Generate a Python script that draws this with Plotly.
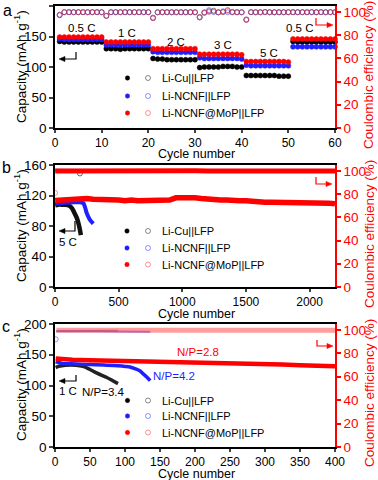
import plotly.graph_objects as go

# ---------------- Panel a : rate capability ----------------
cycle_a = list(range(1, 61))
rate_labels = ["0.5 C", "1 C", "2 C", "3 C", "5 C", "0.5 C"]
cap_a_cu = [142, 141, 141, 141, 141, 141, 141, 141, 141, 141,
            130, 130, 130, 129, 130, 130, 130, 130, 130, 130,
            114, 113, 113, 112, 112, 112, 112, 112, 112, 112,
            99, 100, 100, 100, 100, 101, 101, 101, 100, 100,
            86, 86, 86, 86, 86, 86, 86, 85, 85, 85,
            142, 141, 141, 141, 141, 141, 141, 141, 141, 141]
cap_a_ncnf = [146, 145, 145, 145, 145, 145, 145, 145, 145, 145,
              136, 136, 136, 136, 136, 136, 136, 136, 136, 136,
              125, 124, 124, 124, 124, 124, 124, 124, 124, 124,
              115, 114, 114, 114, 114, 114, 114, 114, 114, 113,
              103, 102, 102, 102, 102, 102, 102, 102, 102, 102,
              133, 133, 133, 133, 133, 133, 133, 133, 133, 133]
cap_a_mop = [149, 149, 149, 149, 149, 149, 149, 149, 149, 149,
             141, 141, 141, 141, 141, 141, 141, 141, 141, 141,
             130, 130, 130, 130, 130, 130, 130, 130, 130, 130,
             121, 121, 121, 121, 121, 121, 121, 121, 121, 120,
             109, 109, 109, 109, 109, 109, 109, 109, 109, 108,
             146, 146, 146, 146, 146, 146, 146, 146, 146, 146]
ce_a_cu = [97.0, 99.6, 99.7, 99.6, 99.7, 99.6, 99.7, 99.6, 99.7, 99.6,
           96.5, 99.6, 99.7, 99.6, 99.7, 99.6, 99.7, 99.6, 99.7, 99.6,
           95.0, 99.5, 99.6, 99.7, 99.6, 99.5, 99.6, 99.7, 99.6, 99.5,
           95.5, 99.0, 100.5, 101.0, 99.5, 99.8, 101.5, 100.0, 99.5, 99.5,
           93.5, 99.6, 99.7, 99.5, 99.8, 99.6, 99.5, 99.6, 99.6, 99.6,
           99.6, 99.6, 99.7, 99.6, 99.7, 99.6, 99.7, 99.6, 99.7, 99.6]
ce_a_ncnf = [97.5, 99.7, 99.6, 99.7, 99.6, 99.7, 99.6, 99.7, 99.6, 99.7,
             96.5, 99.7, 99.6, 99.7, 99.6, 99.7, 99.6, 99.7, 99.6, 99.7,
             94.5, 99.6, 99.7, 99.5, 99.6, 99.7, 99.6, 99.5, 99.7, 99.6,
             95.0, 99.5, 101.5, 99.8, 99.5, 100.5, 99.6, 99.5, 99.8, 99.6,
             93.0, 99.7, 99.5, 99.6, 99.8, 99.7, 99.6, 99.5, 99.6, 99.7,
             99.7, 99.6, 99.7, 99.6, 99.7, 99.6, 99.7, 99.6, 99.7, 99.6]
ce_a_mop = [97.4, 99.8, 99.8, 99.7, 99.8, 99.8, 99.7, 99.8, 99.8, 99.7,
            96.6, 99.8, 99.8, 99.7, 99.8, 99.8, 99.7, 99.8, 99.8, 99.7,
            94.5, 99.7, 99.8, 99.8, 99.7, 99.8, 99.8, 99.7, 99.8, 99.8,
            95.4, 99.6, 99.8, 100.5, 99.7, 99.8, 100.8, 99.7, 99.6, 99.8,
            93.0, 99.8, 99.7, 99.8, 99.8, 99.7, 99.8, 99.8, 99.7, 99.8,
            99.8, 99.8, 99.7, 99.8, 99.8, 99.7, 99.8, 99.8, 99.7, 99.8]

# ---------------- Panel b : long cycling at 5 C ----------------
cyc_b_cu = [1, 25, 50, 75, 100, 118, 135, 150, 162, 175, 185, 192, 198, 203]
cap_b_cu = [107, 108, 108, 108, 107.5, 106, 103, 98, 94, 89, 83, 78, 73, 68]
cyc_b_ncnf = [1, 50, 100, 150, 200, 222, 235, 249, 262, 275, 290, 301]
cap_b_ncnf = [109, 110, 110.5, 111, 111, 110, 105, 97, 92, 88, 85, 83]
cyc_b_mop = [1, 50, 100, 150, 200, 250, 300, 350, 400, 450, 500, 550, 600,
             650, 700, 750, 800, 850, 900, 950, 1000, 1050, 1100, 1150,
             1200, 1250, 1300, 1350, 1400, 1450, 1500, 1550, 1600, 1650,
             1700, 1750, 1800, 1850, 1900, 1950, 2000, 2050, 2100, 2150, 2200]
cap_b_mop = [113.5, 114, 115, 114, 115, 116, 115, 115, 114, 114, 114, 113, 114,
             113, 113, 113, 113, 114, 114, 117, 117, 118, 117, 116,
             115, 115, 114, 114, 113, 113, 113, 112, 112, 111,
             111, 111, 110, 110, 110, 110, 110, 110, 110, 110, 109]
cyc_b_ce_cu = [2, 50, 100, 150, 190, 196]
ce_b_cu = [100.0, 100.0, 100.0, 100.0, 100.0, 97.7]
cyc_b_ce_ncnf = [2, 50, 100, 150, 200, 250, 301]
ce_b_ncnf = [100.8, 100.6, 100.5, 100.5, 100.3, 100.2, 100.2]
cyc_b_ce_mop = [2, 100, 200, 300, 400, 500, 600, 700, 800, 900, 1000, 1100,
                1200, 1300, 1400, 1500, 1600, 1700, 1800, 1900, 2000, 2100, 2200]
ce_b_mop = [99.9, 100.0, 99.9, 100.0, 99.9, 100.0, 99.9, 100.0, 99.9, 100.0, 99.9, 100.0,
            99.9, 100.0, 99.9, 100.0, 99.9, 100.0, 99.9, 100.0, 99.9, 100.0, 99.9]
first_ce_b = [81]

# ---------------- Panel c : 1 C cycling with N/P ratios ----------------
cyc_c_cu = [1, 5, 15, 30, 40, 50, 60, 74, 82, 90]
cap_c_cu = [129, 131, 133, 133, 131, 126, 120, 113, 108, 103]
cyc_c_ncnf = [1, 10, 30, 50, 70, 90, 100, 107, 115, 121, 126, 131, 136]
cap_c_ncnf = [139, 136, 135, 134, 133.5, 132, 131, 130, 127, 124, 119, 114, 108]
cyc_c_mop = [1, 10, 25, 50, 75, 100, 125, 150, 175, 200, 225, 250, 275, 300,
             325, 350, 375, 400]
cap_c_mop = [144, 143, 142, 141, 140.5, 140, 139, 138.5, 138, 137, 136.5, 136,
             135, 134.5, 134, 133, 132.5, 131.5]
cyc_c_ce_cu = [2, 30, 60, 90]
ce_c_cu = [99.0, 99.2, 99.3, 99.2]
cyc_c_ce_ncnf = [2, 30, 60, 90, 110, 136]
ce_c_ncnf = [98.8, 99.0, 98.8, 98.6, 98.5, 98.3]
cyc_c_ce_mop = [2, 50, 100, 150, 200, 250, 300, 350, 400]
ce_c_mop = [99.6, 99.7, 99.7, 99.6, 99.7, 99.6, 99.7, 99.6, 99.6]
first_ce_c = [92]
np_labels = ["N/P=3.4", "N/P=4.2", "N/P=2.8"]

series_names = ["Li-Cu||LFP", "Li-NCNF||LFP", "Li-NCNF@MoP||LFP"]

BLACK, BLUE, RED = "#000000", "#1f1fff", "#ff0000"
CE_BLACK, CE_BLUE, CE_RED = "rgba(0,0,0,0.45)", "rgba(40,40,255,0.5)", "rgba(255,40,40,0.5)"
FONT = "Liberation Sans, Arial, sans-serif"

fig = go.Figure()

# panel a
for y, c in [(cap_a_cu, BLACK), (cap_a_ncnf, BLUE), (cap_a_mop, RED)]:
    fig.add_trace(go.Scatter(x=cycle_a, y=y, mode="markers", xaxis="x", yaxis="y",
                             marker=dict(size=5, color=c, line=dict(width=0.5, color=c)),
                             showlegend=False, cliponaxis=False))
for y, c in [(ce_a_cu, CE_BLACK), (ce_a_ncnf, CE_BLUE), (ce_a_mop, CE_RED)]:
    fig.add_trace(go.Scatter(x=cycle_a, y=y, mode="markers", xaxis="x", yaxis="y2",
                             marker=dict(size=5, symbol="circle-open", color=c, line=dict(width=1, color=c)),
                             showlegend=False))

# panel b
fig.add_trace(go.Scatter(x=cyc_b_ce_cu, y=ce_b_cu, mode="lines", xaxis="x2", yaxis="y4",
                         line=dict(color=CE_BLACK, width=2), showlegend=False))
fig.add_trace(go.Scatter(x=cyc_b_ce_cu[-1:], y=ce_b_cu[-1:], mode="markers", xaxis="x2", yaxis="y4",
                         marker=dict(size=5, symbol="circle-open", color="rgba(0,0,0,0.6)"), showlegend=False))
fig.add_trace(go.Scatter(x=cyc_b_ce_ncnf, y=ce_b_ncnf, mode="lines", xaxis="x2", yaxis="y4",
                         line=dict(color="rgba(60,60,255,0.8)", width=2.5), showlegend=False))
fig.add_trace(go.Scatter(x=cyc_b_ce_mop, y=ce_b_mop, mode="lines", xaxis="x2", yaxis="y4",
                         line=dict(color=RED, width=5), showlegend=False))
fig.add_trace(go.Scatter(x=[1], y=first_ce_b, mode="markers", xaxis="x2", yaxis="y4",
                         marker=dict(size=5, symbol="circle-open", color=CE_RED), showlegend=False))
fig.add_trace(go.Scatter(x=cyc_b_cu, y=cap_b_cu, mode="lines", xaxis="x2", yaxis="y3",
                         line=dict(color="#111111", width=4.5, shape="spline"), showlegend=False))
fig.add_trace(go.Scatter(x=cyc_b_ncnf, y=cap_b_ncnf, mode="lines", xaxis="x2", yaxis="y3",
                         line=dict(color=BLUE, width=4, shape="spline"), showlegend=False))
fig.add_trace(go.Scatter(x=cyc_b_mop, y=cap_b_mop, mode="lines", xaxis="x2", yaxis="y3",
                         line=dict(color=RED, width=5.5), showlegend=False))

# panel c
fig.add_trace(go.Scatter(x=cyc_c_ce_cu, y=ce_c_cu, mode="lines", xaxis="x3", yaxis="y6",
                         line=dict(color=CE_BLACK, width=2), showlegend=False))
fig.add_trace(go.Scatter(x=cyc_c_ce_ncnf, y=ce_c_ncnf, mode="lines", xaxis="x3", yaxis="y6",
                         line=dict(color="rgba(60,60,255,0.7)", width=2), showlegend=False))
fig.add_trace(go.Scatter(x=cyc_c_ce_mop, y=ce_c_mop, mode="lines", xaxis="x3", yaxis="y6",
                         line=dict(color="rgba(255,90,90,0.6)", width=5), showlegend=False))
fig.add_trace(go.Scatter(x=[1], y=first_ce_c, mode="markers", xaxis="x3", yaxis="y6",
                         marker=dict(size=5, symbol="circle-open", color=CE_BLUE), showlegend=False))
fig.add_trace(go.Scatter(x=cyc_c_cu, y=cap_c_cu, mode="lines", xaxis="x3", yaxis="y5",
                         line=dict(color="#222222", width=3.5, shape="spline"), showlegend=False))
fig.add_trace(go.Scatter(x=cyc_c_ncnf, y=cap_c_ncnf, mode="lines", xaxis="x3", yaxis="y5",
                         line=dict(color=BLUE, width=3.5, shape="spline"), showlegend=False))
fig.add_trace(go.Scatter(x=cyc_c_mop, y=cap_c_mop, mode="lines", xaxis="x3", yaxis="y5",
                         line=dict(color=RED, width=4.5), showlegend=False))

# ---------------- layout helpers ----------------
L, R, T, B = 55, 43, 6, 33
W, H = 378, 480
PW, PH = W - L - R, H - T - B


def px(x):
    return (x - L) / PW


def py(y):
    return (H - B - y) / PH


doms = [(py(128), py(6)), (py(287), py(165)), (py(447), py(324))]
xranges = [[0, 60], [0, 2200], [0, 400]]
xdt = [10, 500, 50]
yranges = [[0, 200], [0, 160], [0, 200]]
ydt = [50, 40, 50]

tickfont = dict(family=FONT, size=12, color="black")
layout = dict(width=W, height=H, margin=dict(l=L, r=R, t=T, b=B, autoexpand=False),
              plot_bgcolor="white", paper_bgcolor="white",
              font=dict(family=FONT, size=13, color="black"), showlegend=False)
for i in range(3):
    xs = "" if i == 0 else str(i + 1)
    yl = "" if i == 0 else str(2 * i + 1)
    yr = str(2 * i + 2)
    layout["xaxis" + xs] = dict(domain=[0, 1], anchor="y" + yl, range=xranges[i], dtick=xdt[i],
                                ticks="outside", ticklen=3, tickwidth=1.5, showline=True,
                                linewidth=1.5, linecolor="black", mirror=True, showgrid=False,
                                zeroline=False, tickfont=tickfont, automargin=False)
    layout["yaxis" + yl] = dict(domain=list(doms[i]), anchor="x" + xs, range=yranges[i], dtick=ydt[i],
                                ticks="outside", ticklen=4, tickwidth=1.5, showline=True,
                                linewidth=1.5, linecolor="black", showgrid=False, zeroline=False,
                                tickfont=dict(family=FONT, size=13.5, color="black"), automargin=False)
    layout["yaxis" + yr] = dict(domain=list(doms[i]), anchor="x" + xs, overlaying="y" + yl,
                                side="right", range=[0, 105], dtick=20, ticks="outside", ticklen=4,
                                tickwidth=1.5, showline=True, linewidth=1.5, linecolor=RED,
                                tickcolor=RED, showgrid=False, zeroline=False, automargin=False,
                                tickfont=dict(family=FONT, size=13.5, color=RED))
fig.update_layout(**layout)

ann = []
shapes = []


def text(x, y, s, size=11, color="black", angle=0):
    ann.append(dict(x=px(x), y=py(y), xref="paper", yref="paper", text=s, showarrow=False,
                    font=dict(family=FONT, size=size, color=color), textangle=angle,
                    xanchor="center", yanchor="middle", borderpad=0))


def elbow(xv, y0, y1, x_end, color):
    # vertical segment, horizontal segment, and a triangular arrowhead
    d = 1 if x_end > xv else -1
    tip = x_end
    base = x_end - d * 6
    path = "M {:.4f} {:.4f} L {:.4f} {:.4f} L {:.4f} {:.4f}".format(
        px(xv), py(y0), px(xv), py(y1), px(base), py(y1))
    shapes.append(dict(type="path", xref="paper", yref="paper", path=path,
                       line=dict(color=color, width=1.2)))
    head = "M {:.4f} {:.4f} L {:.4f} {:.4f} L {:.4f} {:.4f} Z".format(
        px(tip), py(y1), px(base), py(y1 - 2.6), px(base), py(y1 + 2.6))
    shapes.append(dict(type="path", xref="paper", yref="paper", path=head,
                       fillcolor=color, line=dict(color=color, width=0.5)))


def legend(rows_y, xdot=127.5, xring=148, xtext=160):
    cols = [(BLACK, CE_BLACK), (BLUE, CE_BLUE), (RED, CE_RED)]
    for (y, name, (cf, co)) in zip(rows_y, series_names, cols):
        r = 2.2
        shapes.append(dict(type="circle", xref="paper", yref="paper",
                           x0=px(xdot - r), x1=px(xdot + r), y0=py(y + r), y1=py(y - r),
                           fillcolor=cf, line=dict(color=cf, width=0.5)))
        r2 = 2.5
        shapes.append(dict(type="circle", xref="paper", yref="paper",
                           x0=px(xring - r2), x1=px(xring + r2), y0=py(y + r2), y1=py(y - r2),
                           line=dict(color=co, width=1)))
        ann.append(dict(x=px(xtext), y=py(y), xref="paper", yref="paper", text=name,
                        showarrow=False, xanchor="left", yanchor="middle",
                        font=dict(family=FONT, size=11, color="black")))


# panel letters
text(7, 10, "a", size=16)
text(6, 168, "b", size=16)
text(6, 327, "c", size=16)

# axis titles
for yc in [67, 226, 385]:
    text(20, yc, "Capacity (mAh g<sup>-1</sup>)", size=13.5, angle=-90)
    text(369, yc + 8, "Coulombic efficiency (%)", size=13.5, color=RED, angle=-90)
for yc in [154, 314, 473.5]:
    text(196, yc, "Cycle number", size=12.5)

# panel a rate labels
for (xx, yy), s in zip([(82, 28), (127, 33), (176, 42), (223, 45), (269, 53), (300, 28)], rate_labels):
    text(xx, yy, s, size=11.5)
elbow(76, 52, 59, 59, "black")
elbow(316, 18, 25, 333, RED)
legend([78, 96, 113])

# panel b
text(67.5, 242.5, "5 C", size=11.5)
elbow(75, 221, 231, 59, "black")
elbow(316, 177, 184, 332, RED)
legend([231, 248, 264.5], xdot=127, xring=148, xtext=160)

# panel c
text(68, 391, "1 C", size=11.5)
elbow(76, 375, 381, 59, "black")
elbow(317, 340, 346, 333, RED)
text(103, 392, np_labels[0], size=11.5, color="black")
text(174, 376, np_labels[1], size=11.5, color=BLUE)
text(198, 352, np_labels[2], size=11.5, color=RED)
legend([400.5, 416, 432.5], xdot=127.5, xring=148, xtext=159.5)

fig.update_layout(annotations=ann, shapes=shapes)
fig.write_html("out.html", config={"displayModeBar": False},
               post_script="document.body.style.margin='0';document.body.style.overflow='hidden';")
